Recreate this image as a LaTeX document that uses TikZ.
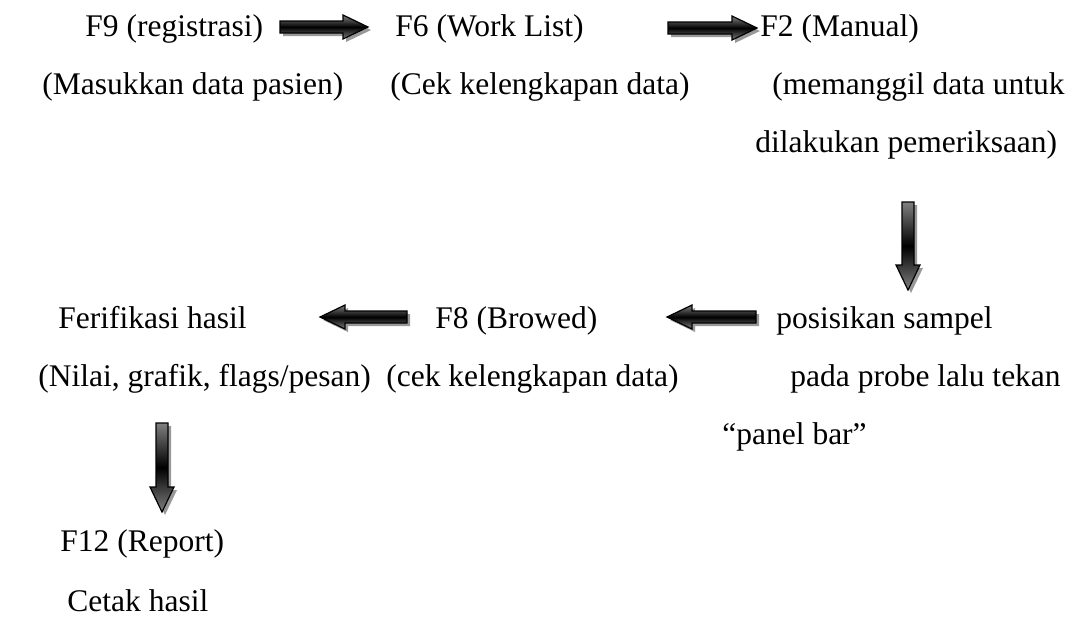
\documentclass[tikz,border=0pt]{standalone}
\usepackage{fontspec}
\setmainfont{Liberation Serif}
\usetikzlibrary{calc, positioning}

% thick shaded block arrow from #1 to #2, with a grey drop shadow
\newcommand{\blockarrow}[2]{%
    \coordinate (hb) at ($(#2)!12.5pt!(#1)$);
    \coordinate (p1) at ($(#1)!3pt!90:(#2)$);
    \coordinate (p2) at ($(hb)!3pt!90:(#2)$);
    \coordinate (p3) at ($(hb)!6pt!90:(#2)$);
    \coordinate (p4) at ($(hb)!6pt!-90:(#2)$);
    \coordinate (p5) at ($(hb)!3pt!-90:(#2)$);
    \coordinate (p6) at ($(#1)!3pt!-90:(#2)$);
    \begin{scope}[transform canvas={shift={(1.5pt,-1.5pt)}}]
        \fill[arrowshadow] (p1) -- (p2) -- (p3) -- (#2) -- (p4) -- (p5) -- (p6) -- cycle;
    \end{scope}
    \draw[arrowbox] (p1) -- (p2) -- (p3) -- (#2) -- (p4) -- (p5) -- (p6) -- cycle;
}

\begin{document}
\begin{tikzpicture}[x=0.5pt, y=-0.5pt]
    \tikzstyle{txt}=[inner sep=0pt, anchor=base west, font=\fontsize{15.75}{18}\selectfont]
    \tikzstyle{arrowbox}=[draw=black, line width=0.6pt, line join=miter,
        top color=black!50, bottom color=black!50, middle color=black]
    \tikzstyle{arrowshadow}=[fill=black!40]

    \useasboundingbox (0,0) rectangle (1068,628);

    % first row
    \node[txt] (f9) at (85,36) {F9 (registrasi)};
    \node[txt] (f6) at (395,36) {F6 (Work List)};
    \node[txt] (f2) at (760,36) {F2 (Manual)};

    \node[txt] (masukkan) at (42,94) {(Masukkan data pasien)};
    \node[txt] (cek) at (390,94) {(Cek kelengkapan data)};
    \node[txt] (panggil) at (772,94) {(memanggil data untuk};
    \node[txt] (periksa) at (755,152) {dilakukan pemeriksaan)};

    % second row
    \node[txt] (ferif) at (58,328) {Ferifikasi hasil};
    \node[txt] (f8) at (435,328) {F8 (Browed)};
    \node[txt] (posisi) at (776,328) {posisikan sampel};

    \node[txt] (nilai) at (38,386) {(Nilai, grafik, flags/pesan)};
    \node[txt] (cek2) at (386,386) {(cek kelengkapan data)};
    \node[txt] (probe) at (790,386) {pada probe lalu tekan};
    \node[txt] (panel) at (722,444) {``panel bar''};

    % last step
    \node[txt] (f12) at (60,551) {F12 (Report)};
    \node[txt] (cetak) at (67,611) {Cetak hasil};

    % arrow ends
    \coordinate (a1s) at (280,27);
    \coordinate (a1e) at (368,27);
    \coordinate (a2s) at (668,28);
    \coordinate (a2e) at (757,28);
    \coordinate (v1s) at (908,202);
    \coordinate (v1e) at (908,290);
    \coordinate (l2s) at (756,317);
    \coordinate (l2e) at (667,317);
    \coordinate (l1s) at (407,317);
    \coordinate (l1e) at (320,317);
    \coordinate (v2s) at (162,423);
    \coordinate (v2e) at (162,512);

    \blockarrow{a1s}{a1e}
    \blockarrow{a2s}{a2e}
    \blockarrow{v1s}{v1e}
    \blockarrow{l2s}{l2e}
    \blockarrow{l1s}{l1e}
    \blockarrow{v2s}{v2e}
\end{tikzpicture}
\end{document}
